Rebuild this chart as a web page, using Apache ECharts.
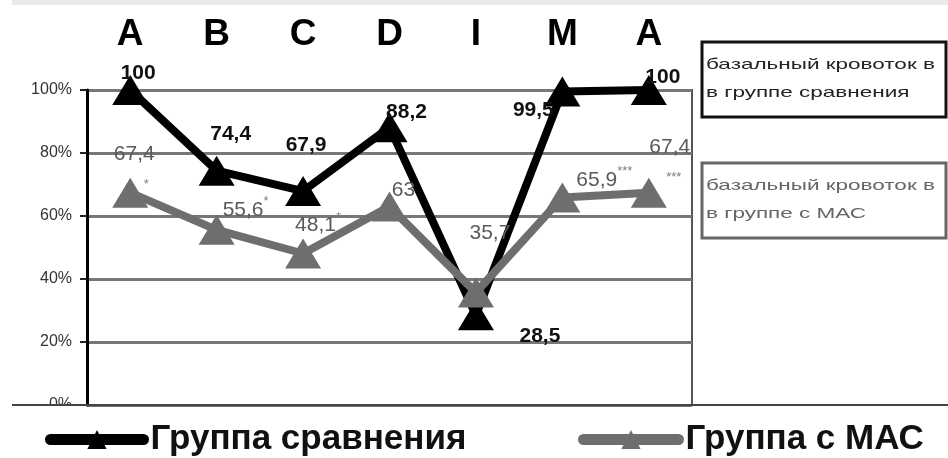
<!DOCTYPE html>
<html>
<head>
<meta charset="utf-8">
<script src="https://cdn.jsdelivr.net/npm/echarts@6/dist/echarts.min.js"></script>
<style>
  html, body { margin: 0; padding: 0; background: #fff; }
  #chart { width: 948px; height: 458px; }
</style>
</head>
<body>
<div id="chart"></div>
<script>
// Stages of the test along the top axis
const stages = ['A', 'B', 'C', 'D', 'I', 'M', 'A'];
// Basal blood flow, % of baseline
const comparisonGroup = [100, 74.4, 67.9, 88.2, 28.5, 99.5, 100];
const masGroup = [67.4, 55.6, 48.1, 63, 35.7, 65.9, 67.4];
// Significance marks printed next to the МАС values
const masMarks = ['*', '*', '*', '', '', '***', '***'];
const masMarkBelow = [true, false, false, false, false, false, true];
const yTicks = [0, 20, 40, 60, 80, 100];
const seriesNames = ['Группа сравнения', 'Группа с МАС'];
const boxTexts = [
  ['базальный кровоток в', 'в группе сравнения'],
  ['базальный кровоток в', 'в группе с МАС']
];

// Label placement, px from each marker centre
const compOffsets = [[8, -17], [14, -36], [3, -46], [17, -15], [64, 21], [-29, 19], [14, -13]];
const masOffsets = [[4, -23], [29, -20], [15, -28], [14, -16], [14, -59], [42, -17], [21, -30]];

const FONT = '"Liberation Sans", Arial, sans-serif';
const fmt = v => String(v).replace('.', ',');

const chart = echarts.init(document.getElementById('chart'), null, { renderer: 'canvas' });

function masLabel(i) {
  const v = '{v|' + fmt(masGroup[i]) + '}';
  const m = masMarks[i];
  if (!m) return v;
  if (masMarkBelow[i]) return v + '\n{' + (i === 0 ? 'sa' : 'sb') + '|' + m + '}';
  return v + '{s|' + m + '}';
}

function box(y, lines, stroke, color) {
  const line = (text, dy) => ({
    type: 'text', x: 706, y: y + dy, scaleX: 1.5, scaleY: 1,
    style: { text: text, font: '15px ' + FONT, fill: color, verticalAlign: 'middle' }
  });
  return {
    type: 'group',
    children: [
      { type: 'rect', shape: { x: 702, y: y, width: 244, height: 75 },
        style: { fill: '#fff', stroke: stroke, lineWidth: 3 } },
      line(lines[0], 23),
      line(lines[1], 51)
    ]
  };
}

const legendBase = {
  top: 422,
  padding: 0,
  itemHeight: 24,
  itemGap: 0,
  selectedMode: false,
  textStyle: { fontFamily: FONT, fontSize: 35, fontWeight: 'bold', color: '#111', padding: [0, 0, 0, 2] },
  lineStyle: { width: 11, cap: 'round' }
};

chart.setOption({
  animation: false,
  backgroundColor: '#fff',
  grid: {
    left: 87, right: 256, top: 90, bottom: 53,
    show: true, borderColor: '#555', borderWidth: 2
  },
  xAxis: {
    type: 'category',
    position: 'top',
    data: stages,
    boundaryGap: true,
    axisLine: { show: false },
    axisTick: { show: false },
    splitLine: { show: false },
    axisLabel: { fontFamily: FONT, fontSize: 37, fontWeight: 'bold', color: '#000', margin: 37 }
  },
  yAxis: {
    type: 'value',
    min: yTicks[0],
    max: yTicks[yTicks.length - 1],
    interval: yTicks[1] - yTicks[0],
    axisLine: { show: true, lineStyle: { color: '#000', width: 3 } },
    axisTick: { show: true, length: 7, lineStyle: { color: '#222', width: 2 } },
    splitLine: { lineStyle: { color: '#777', width: 3 } },
    axisLabel: { formatter: '{value}%', fontFamily: FONT, fontSize: 16, color: '#333', margin: 15 }
  },
  legend: [
    Object.assign({}, legendBase, { data: [seriesNames[0]], left: 45, itemWidth: 93 }),
    Object.assign({}, legendBase, { data: [seriesNames[1]], left: 578, itemWidth: 95 })
  ],
  series: [
    {
      name: seriesNames[0],
      type: 'line',
      data: comparisonGroup.map((v, i) => ({ value: v, label: { offset: compOffsets[i] } })),
      symbol: 'triangle',
      symbolSize: [36, 30],
      lineStyle: { color: '#000', width: 8 },
      itemStyle: { color: '#000' },
      silent: true,
      label: {
        show: true, position: 'inside',
        formatter: p => fmt(p.value),
        fontFamily: FONT, fontSize: 21, fontWeight: 'bold', color: '#111'
      },
      z: 2
    },
    {
      name: seriesNames[1],
      type: 'line',
      data: masGroup.map((v, i) => ({ value: v, label: { offset: masOffsets[i] } })),
      symbol: 'triangle',
      symbolSize: [36, 30],
      lineStyle: { color: '#6e6e6e', width: 8 },
      itemStyle: { color: '#6e6e6e' },
      silent: true,
      label: {
        show: true, position: 'inside',
        formatter: p => masLabel(p.dataIndex),
        fontFamily: FONT,
        rich: {
          v: { fontFamily: FONT, fontSize: 21, color: '#5a5a5a', lineHeight: 30 },
          s: { fontFamily: FONT, fontSize: 13, color: '#808080', verticalAlign: 'top', padding: [0, 0, 6, 0] },
          sa: { fontFamily: FONT, fontSize: 13, color: '#808080', padding: [0, 0, 0, 24], lineHeight: 30 },
          sb: { fontFamily: FONT, fontSize: 13, color: '#808080', padding: [0, 0, 0, 8], lineHeight: 30 }
        }
      },
      z: 3
    }
  ],
  graphic: [
    { type: 'rect', shape: { x: 12, y: 0, width: 936, height: 5 }, style: { fill: '#ebebeb' }, z: 10 },
    { type: 'line', shape: { x1: 12, y1: 405, x2: 948, y2: 405 }, style: { stroke: '#444', lineWidth: 2 }, z: 10 },
    { type: 'rect', shape: { x: 0, y: 406, width: 86, height: 12 }, style: { fill: '#fff' }, z: 10 },
    box(42, boxTexts[0], '#111', '#222'),
    box(163, boxTexts[1], '#666', '#666')
  ]
});
</script>
</body>
</html>
